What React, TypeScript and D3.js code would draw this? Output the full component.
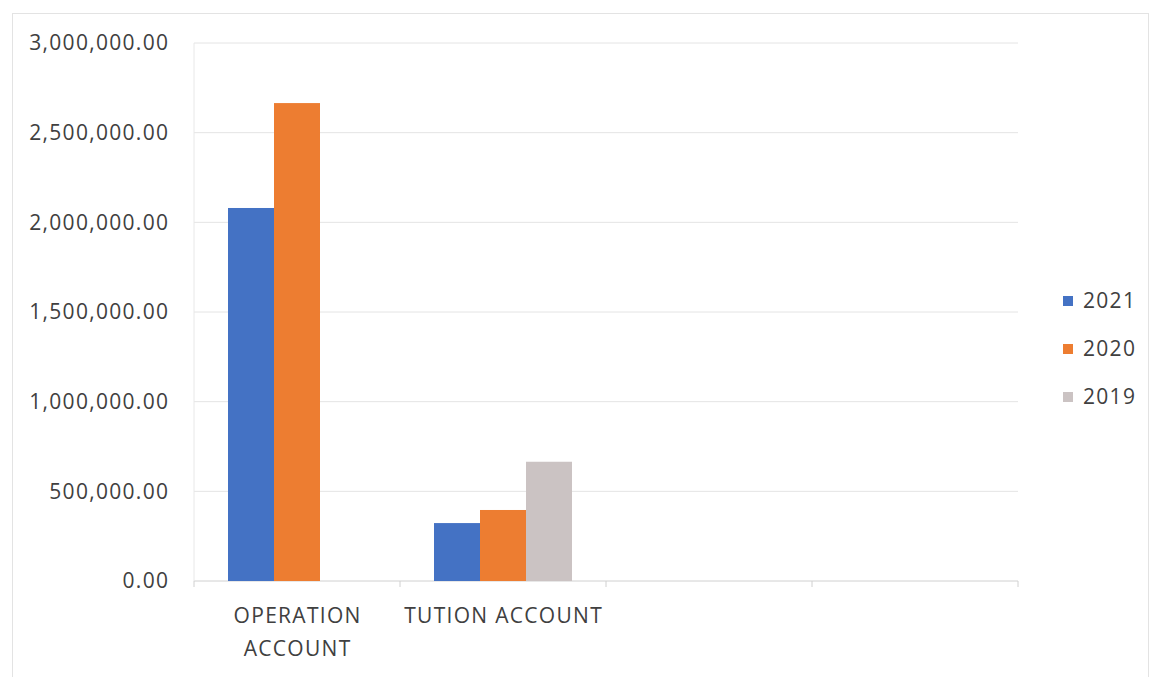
import React from "react";
import * as d3 from "d3";

const categories = ["OPERATION ACCOUNT", "TUTION ACCOUNT", "", ""];
const seriesNames = ["2021", "2020", "2019"];
const values2021 = [2080000, 323000, 0, 0];
const values2020 = [2665000, 396000, 0, 0];
const values2019 = [0, 665000, 0, 0];
const yTicks = [0, 500000, 1000000, 1500000, 2000000, 2500000, 3000000];
const colors = ["#4472C4", "#ED7D31", "#CBC3C3"];

const W = 1152;
const H = 677;
const left = 194;
const right = 1018;
const top = 43;
const bottom = 581;

export default function App() {
  const seriesValues = [values2021, values2020, values2019];
  const x = d3.scaleBand<number>().domain(d3.range(categories.length)).range([left, right]).paddingInner(0).paddingOuter(0);
  const groupW = 138;
  const innerStart = (x.bandwidth() - groupW) / 2;
  const barW = groupW / seriesNames.length;
  const y = d3.scaleLinear().domain([0, 3000000]).range([bottom, top]);
  const fmt = d3.format(",.2f");
  const font = "'Open Sans', sans-serif";
  const fs = 21;
  const ls = 1.3;

  return (
    <svg
      width={W}
      height={H}
      style={{ position: "absolute", left: 0, top: 0, background: "#fff" }}
      fontFamily={font}
    >
      <rect x={12.5} y={13.5} width={1136} height={670} fill="none" stroke="#e3e3e3" />
      {yTicks.map((t) => (
        <g key={t}>
          <line x1={left} x2={right} y1={y(t)} y2={y(t)} stroke={t === 0 ? "#d0d0d0" : "#e4e4e4"} strokeWidth={1} />
          <text x={168 + ls} y={y(t)} dy="0.35em" textAnchor="end" fontSize={fs} letterSpacing={ls} fill="#404040">
            {fmt(t)}
          </text>
        </g>
      ))}
      <line x1={left} x2={left} y1={top} y2={bottom} stroke="#e8e8e8" />
      {d3.range(categories.length + 1).map((i) => {
        const xx = i < categories.length ? (x(i) as number) : right;
        return <line key={i} x1={xx} x2={xx} y1={bottom} y2={bottom + 6} stroke="#d0d0d0" />;
      })}
      {seriesValues.map((vals, s) =>
        vals.map((v, i) =>
          v > 0 ? (
            <rect
              key={`${s}-${i}`}
              x={(x(i) as number) + innerStart + s * barW}
              y={y(v)}
              width={barW}
              height={y(0) - y(v)}
              fill={colors[s]}
            />
          ) : null
        )
      )}
      {categories.map((c, i) => {
        const cx = (x(i) as number) + x.bandwidth() / 2 + ls / 2;
        const words = c.length > 16 ? c.split(" ") : [c];
        return (
          <text key={i} x={cx} textAnchor="middle" fontSize={fs} letterSpacing={ls} fill="#404040">
            {words.map((w, k) => (
              <tspan key={k} x={cx} y={623 + k * 33}>
                {w}
              </tspan>
            ))}
          </text>
        );
      })}
      {seriesNames.map((n, s) => (
        <g key={n} transform={`translate(1063, ${301 + s * 48})`}>
          <rect x={0} y={-5} width={10} height={10} fill={colors[s]} />
          <text x={20} y={0} dy="0.35em" fontSize={fs} letterSpacing={ls} fill="#404040">
            {n}
          </text>
        </g>
      ))}
    </svg>
  );
}
